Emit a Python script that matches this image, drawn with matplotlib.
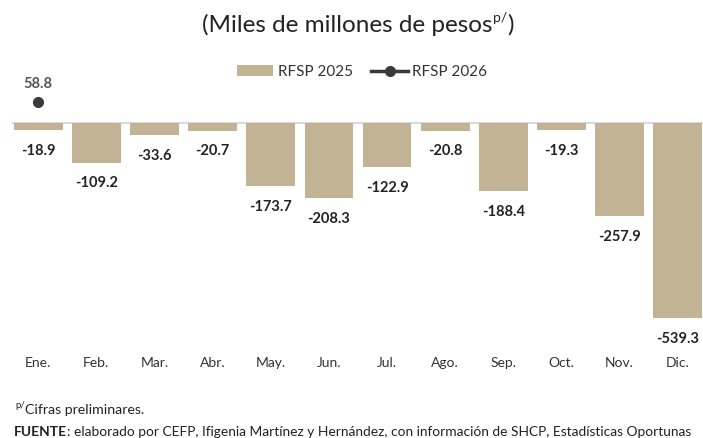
import matplotlib
matplotlib.use("Agg")
import matplotlib.pyplot as plt
from matplotlib.lines import Line2D
from matplotlib.patches import Patch

months = ["Ene.", "Feb.", "Mar.", "Abr.", "May.", "Jun.", "Jul.", "Ago.", "Sep.", "Oct.", "Nov.", "Dic."]
rfsp_2025 = [-18.9, -109.2, -33.6, -20.7, -173.7, -208.3, -122.9, -20.8, -188.4, -19.3, -257.9, -539.3]
rfsp_2026 = [58.8]

W, H = 703, 438
fig = plt.figure(figsize=(W / 100, H / 100), dpi=100)
FONT = "Lato"
plt.rcParams["font.family"] = [FONT, "DejaVu Sans"]

# axes placed in pixel coordinates
ax_left, ax_right, ax_top, ax_bottom = 12, 704, 90.5, 340
ax = fig.add_axes([ax_left / W, 1 - ax_bottom / H, (ax_right - ax_left) / W, (ax_bottom - ax_top) / H])

x = list(range(len(months)))
bar_color = "#C2B394"
ax.bar(x, rfsp_2025, width=0.84, color=bar_color, zorder=2)
ax.axhline(0, color="#D9D9D9", lw=1.5, zorder=1)
ax.plot(x[:len(rfsp_2026)], rfsp_2026, marker="o", ms=7, color="#3A3A3A", lw=2.5, zorder=3)

ax.set_xlim(-0.45, 11.45)
ax.set_ylim(-600, 90)

for xi, v in zip(x, rfsp_2025):
    ax.annotate(f"{v:.1f}", (xi, v), xytext=(0, -10), textcoords="offset points",
                ha="center", va="top", fontsize=10.5, fontweight="bold", color="#222222")
for xi, v in zip(x, rfsp_2026):
    ax.annotate(f"{v:.1f}", (xi, v), xytext=(0, 8), textcoords="offset points",
                ha="center", va="bottom", fontsize=10.5, fontweight="bold", color="#555555")

ax.set_xticks(x)
ax.set_xticklabels(months, fontsize=10, color="#333333")
ax.tick_params(axis="x", length=0, pad=12)
ax.set_yticks([])
for s in ax.spines.values():
    s.set_visible(False)

# legend
handles = [Patch(facecolor=bar_color, edgecolor="none"),
           Line2D([0], [0], color="#3A3A3A", lw=2.5, marker="o", ms=7)]
fig.legend(handles, ["RFSP 2025", "RFSP 2026"], loc="center", ncol=2, frameon=False,
           bbox_to_anchor=(0.515, 1 - 72 / H), fontsize=11, handlelength=2.4,
           handletextpad=0.3, columnspacing=1.2, labelcolor="#333333")

renderer = fig.canvas.get_renderer()

def text_px(xp, yp, s, **kw):
    t = fig.text(xp / W, 1 - yp / H, s, **kw)
    bb = t.get_window_extent(renderer=renderer)
    return t, bb.width

# title with superscript
title_parts = [("(Miles de millones de pesos", 17.5, 0), ("p/", 10, -7), (")", 17.5, 0)]
widths = []
for s, fs, dy in title_parts:
    t = fig.text(0, 0, s, fontsize=fs)
    widths.append(t.get_window_extent(renderer=renderer).width)
    t.remove()
total = sum(widths)
xp = 358 - total / 2
for (s, fs, dy), w in zip(title_parts, widths):
    fig.text(xp / W, 1 - (25 + dy) / H, s, fontsize=fs,
             va="center", ha="left", color="#222222")
    xp += w

# footnotes
_, w = text_px(15, 406, "p/", fontsize=7, va="center", color="#222222")
text_px(15 + w, 410, "Cifras preliminares.", fontsize=10.2, va="center", color="#222222")
_, w = text_px(14, 432, "FUENTE", fontsize=9.9, va="center", fontweight="bold", color="#222222")
text_px(14 + w, 432, ": elaborado por CEFP, Ifigenia Martínez y Hernández, con información de SHCP, Estadísticas Oportunas",
        fontsize=9.9, va="center", color="#222222")

fig.savefig("out.png", dpi=100)
